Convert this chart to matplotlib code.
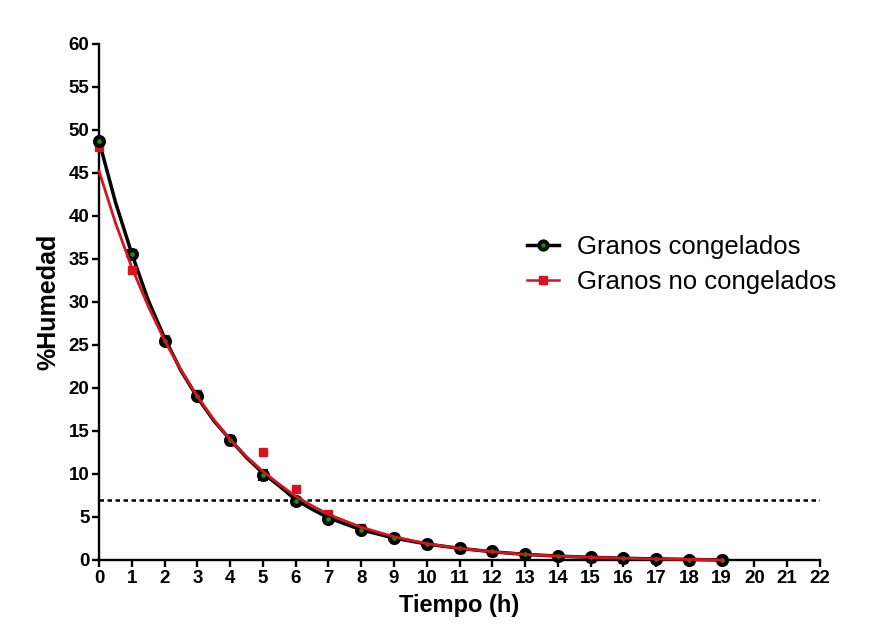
import matplotlib
matplotlib.use("Agg")
import matplotlib.pyplot as plt
from matplotlib.lines import Line2D

plt.rcParams['font.family'] = ['Liberation Sans', 'DejaVu Sans']

# Measured points
t_points = list(range(0, 20))
congelados = [48.7, 35.6, 25.5, 19.1, 14.0, 9.9, 6.8, 4.8, 3.5, 2.6,
              1.9, 1.4, 1.0, 0.7, 0.5, 0.3, 0.2, 0.1, 0.05, 0.0]
err_congelados = [0.3, 0.4, 0.3, 0.3, 0.4, 0.6, 0.4, 0.3, 0.2, 0.2,
                  0.2, 0.1, 0.1, 0.1, 0.1, 0.1, 0.1, 0.1, 0.1, 0.1]
t_red = list(range(0, 20))
no_congelados = [48.0, 33.7, 25.7, 19.3, 13.8, 12.6, 8.3, 5.3, 3.7, 2.7,
                 1.9, 1.3, 0.9, 0.6, 0.4, 0.25, 0.15, 0.1, 0.05, 0.0]

# Fitted curves
t_curve = [0, 0.5, 1, 1.5, 2, 2.5, 3, 3.5, 4, 4.5, 5, 5.5, 6, 6.5, 7, 8, 9, 10,
           11, 12, 13, 14, 15, 16, 17, 18, 19]
fit_congelados = [48.7, 41.6, 35.6, 30.2, 25.8, 22.0, 18.9, 16.2, 14.0, 11.9, 10.1,
                  8.6, 7.0, 5.9, 4.9, 3.5, 2.55, 1.85, 1.35, 0.95, 0.65, 0.45,
                  0.3, 0.2, 0.12, 0.06, 0.0]
fit_no_congelados = [45.2, 39.2, 34.0, 29.5, 25.5, 22.1, 19.0, 16.3, 14.0, 12.0, 10.3,
                     8.8, 7.4, 6.3, 5.3, 3.8, 2.7, 1.9, 1.35, 0.95, 0.65, 0.45,
                     0.3, 0.2, 0.12, 0.06, 0.0]
umbral = 7

x_ticks = list(range(0, 23))
y_ticks = list(range(0, 61, 5))

fig = plt.figure(figsize=(8.69, 6.32), dpi=100)
ax = fig.add_axes([0.114, 0.114, 0.8296, 0.8165])

RED = '#d7141e'
ax.plot(t_curve, fit_congelados, color='black', lw=2.5, zorder=3, clip_on=False)
ax.plot(t_red, no_congelados, linestyle='none', marker='s', markersize=6.2,
        color=RED, zorder=3.5, clip_on=False)
ax.errorbar(t_points, congelados, yerr=err_congelados, fmt='none', ecolor='black',
            elinewidth=1.5, capsize=3.5, capthick=1.5, zorder=4, clip_on=False)
ax.plot(t_points, congelados, linestyle='none', marker='o', markersize=6.4,
        markerfacecolor='#00a000', markeredgecolor='black', markeredgewidth=3.0,
        zorder=4.2, clip_on=False)
ax.plot(t_curve, fit_no_congelados, color=RED, lw=2.0, zorder=5, clip_on=False)
ax.plot([0, 22], [umbral, umbral], color='black', lw=1.8,
        linestyle=(0, (1.8, 1.4)), zorder=2)

ax.set_xlim(0, 22)
ax.set_ylim(0, 60)
ax.set_xticks(x_ticks)
ax.set_yticks(y_ticks)
for s in ['top', 'right']:
    ax.spines[s].set_visible(False)
for s in ['left', 'bottom']:
    ax.spines[s].set_linewidth(1.7)
ax.tick_params(axis='both', direction='out', length=5, width=1.7,
               labelsize=13.5, pad=2)
for lab in ax.get_xticklabels() + ax.get_yticklabels():
    lab.set_fontweight('bold')

ax.set_xlabel('Tiempo (h)', fontsize=17, fontweight='bold', labelpad=5)
ax.set_ylabel('%Humedad', fontsize=18, fontweight='bold', labelpad=6)

h1 = Line2D([], [], color='black', lw=2.5, marker='o', markersize=6.0,
            markerfacecolor='#00a000', markeredgecolor='black', markeredgewidth=2.8)
h2 = Line2D([], [], color=RED, lw=1.8, marker='s', markersize=5.2)
ax.legend([h1, h2], ['Granos congelados', 'Granos no congelados'],
          loc='center left', bbox_to_anchor=(0.594, 0.572), frameon=False,
          fontsize=18.5, handlelength=1.25, handletextpad=0.7, labelspacing=0.42,
          borderpad=0, borderaxespad=0)

fig.savefig('out.png', dpi=100)
